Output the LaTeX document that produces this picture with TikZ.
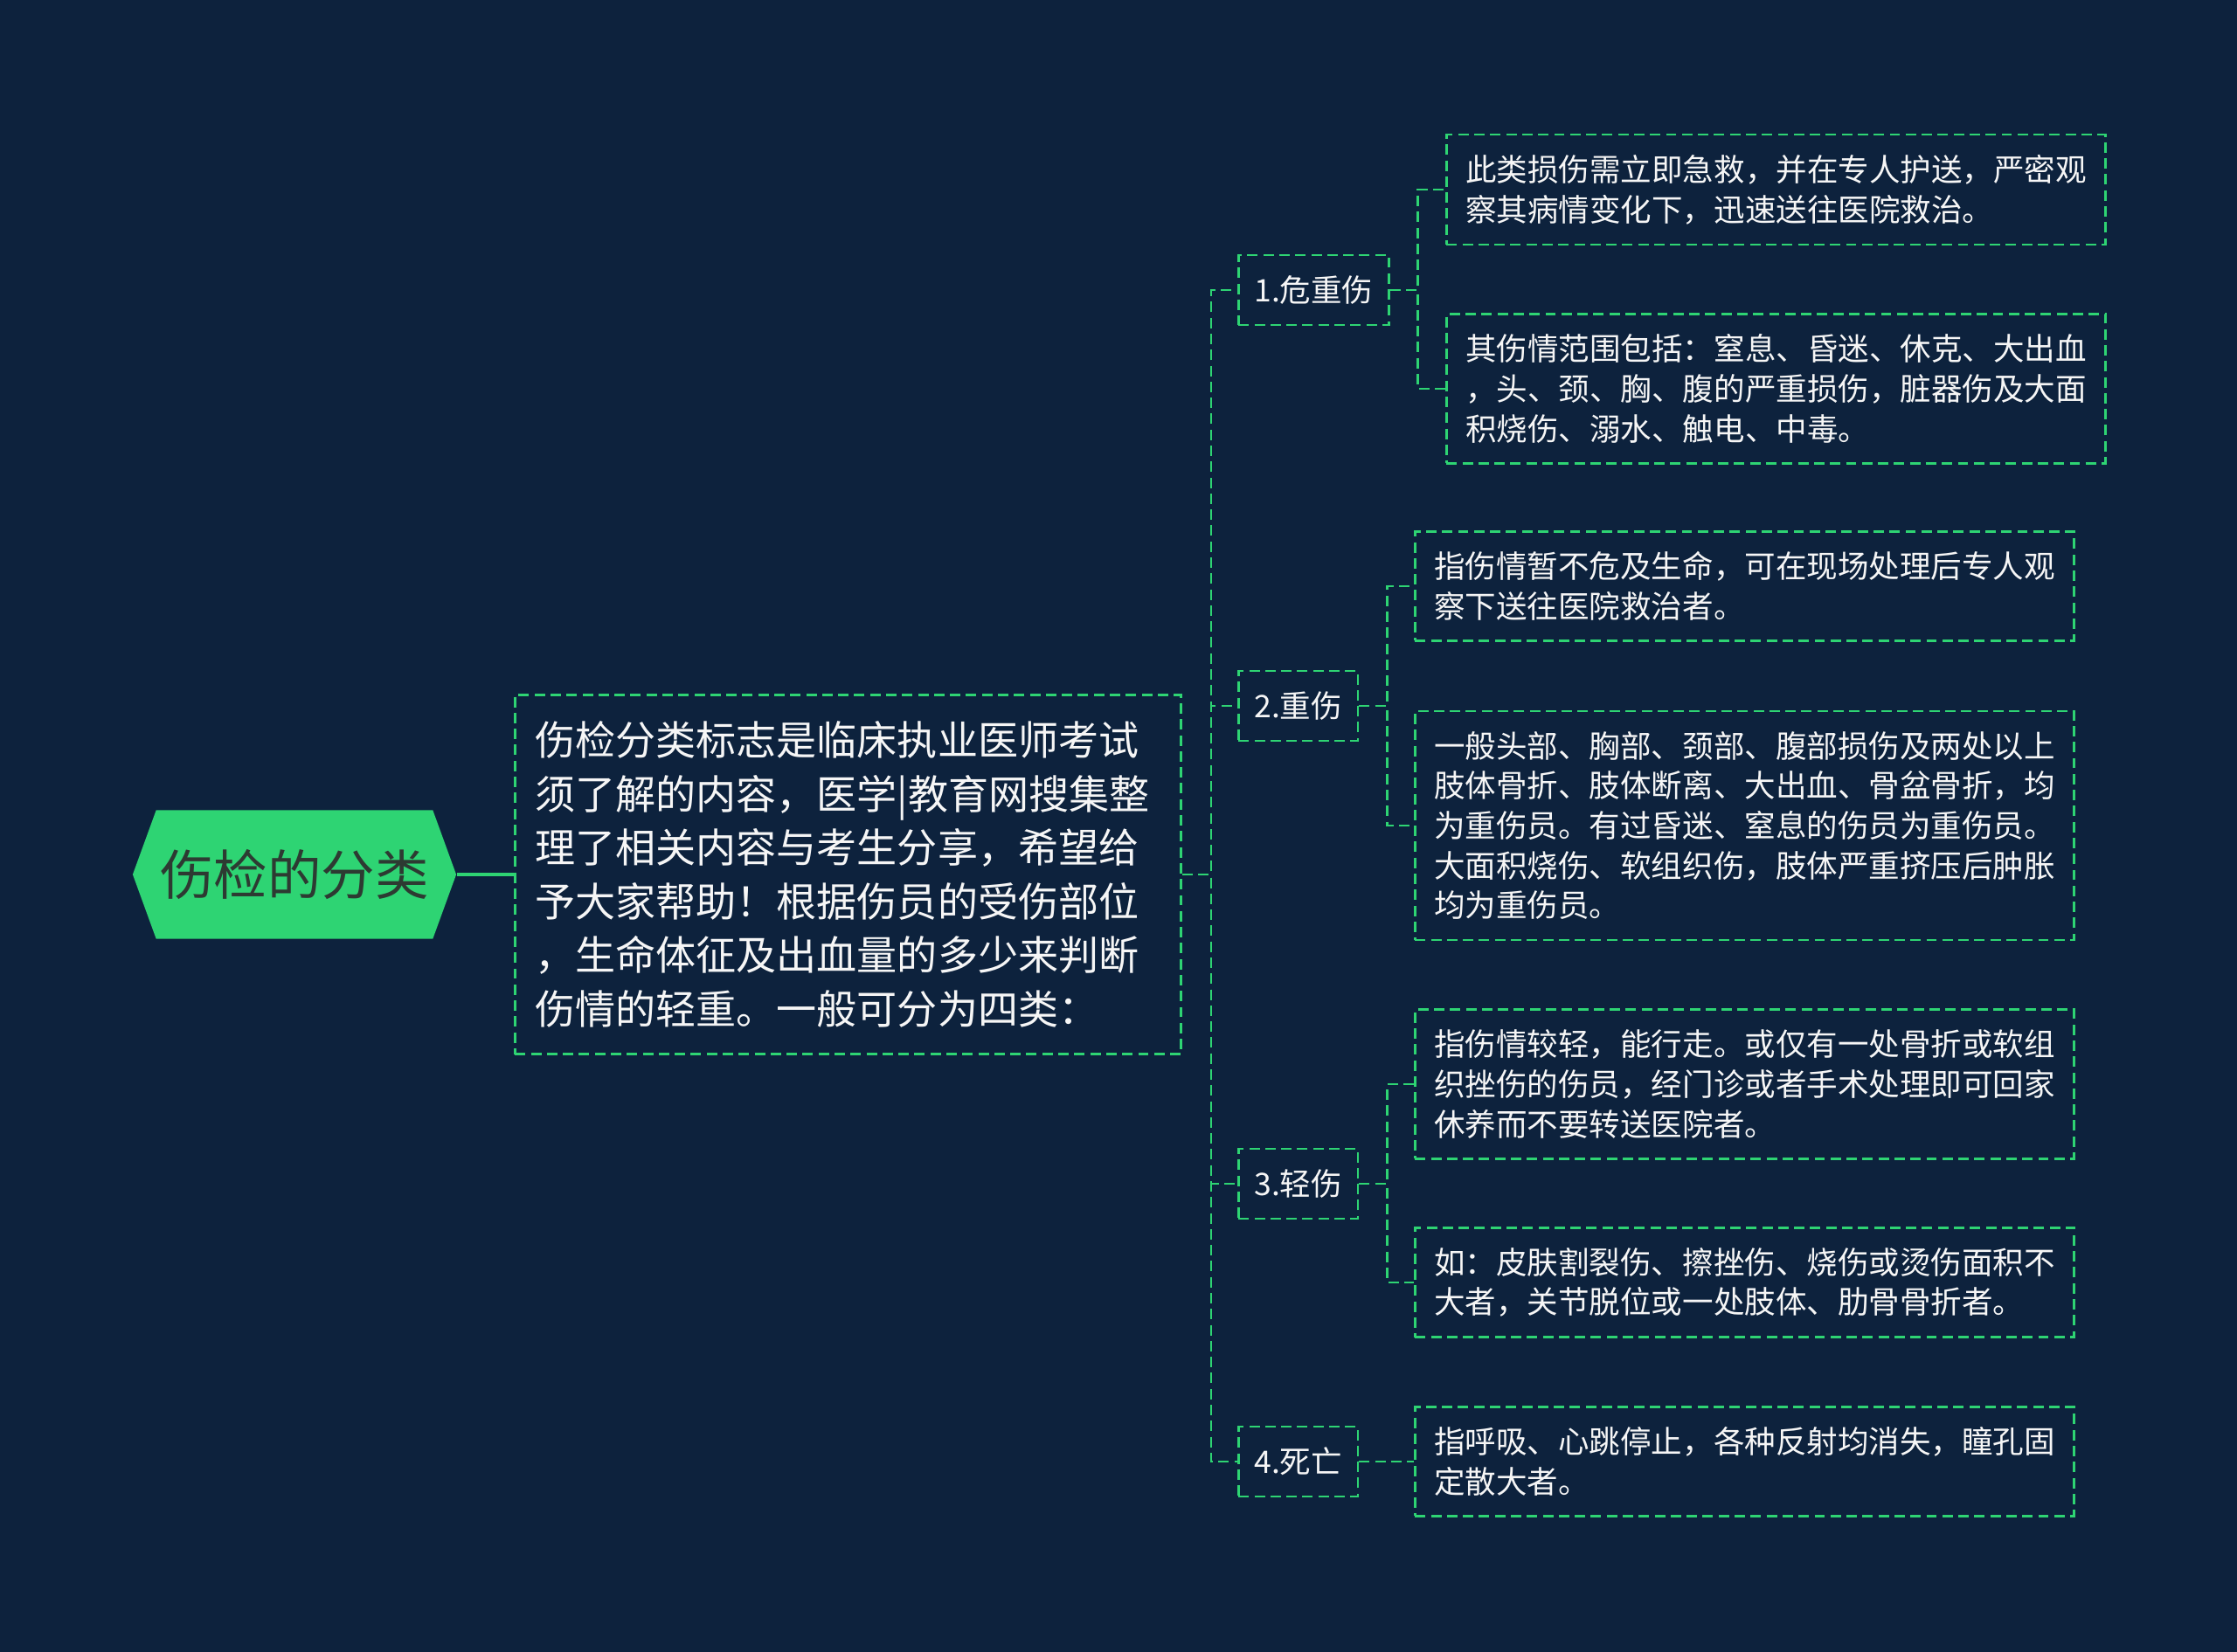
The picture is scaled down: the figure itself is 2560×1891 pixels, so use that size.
\documentclass[tikz,border=0pt]{standalone}
\usepackage{fontspec}
\setmainfont{Noto Sans CJK SC}
\usetikzlibrary{shapes.symbols}

\definecolor{bgnavy}{RGB}{13,34,61}
\definecolor{leafgreen}{RGB}{46,212,115}
\definecolor{rootink}{RGB}{45,58,50}
\definecolor{paper}{RGB}{246,246,246}

\tikzset{
  conn/.style={leafgreen, line width=0.75pt, dash pattern=on 3.4pt off 1.8pt},
  dashbox/.style={draw=leafgreen, line width=0.75pt, dash pattern=on 3.4pt off 1.8pt, text=paper, anchor=west},
  rootnode/.style={signal, signal to=west and east, signal pointer angle=140, fill=leafgreen, text=rootink,
    font=\fontsize{17.5}{21}\selectfont, minimum width=3.70cm, minimum height=1.47cm, inner sep=0pt},
  introbox/.style={dashbox, font=\fontsize{13.1}{17.5}\selectfont, align=left, text width=7.16cm,
    inner xsep=0.23cm, minimum height=4.11cm},
  kindbox/.style={dashbox, font=\fontsize{10.1}{13}\selectfont, inner xsep=0.18cm, minimum height=0.80cm},
  notebox/.style={dashbox, font=\fontsize{10.1}{13}\selectfont, align=left, text width=7.10cm,
    inner xsep=0.22cm, inner ysep=0.23cm}
}

\begin{document}
\begin{tikzpicture}[x=0.01cm,y=-0.01cm]
  \fill[bgnavy] (0,0) rectangle (2560,1891);

  % Root and intro
  \node[rootnode] (root) at (337,1001) {伤检的分类};
  \node[introbox] (intro) at (588,1001) {伤检分类标志是临床执业医师考试\\须了解的内容，医学|教育网搜集整\\理了相关内容与考生分享，希望给\\予大家帮助！根据伤员的受伤部位\\，生命体征及出血量的多少来判断\\伤情的轻重。一般可分为四类：};

  % Four kinds
  \node[kindbox] (crit) at (1416,332) {1.危重伤};
  \node[kindbox] (serious) at (1416,808) {2.重伤};
  \node[kindbox] (minor) at (1416,1355) {3.轻伤};
  \node[kindbox] (death) at (1416,1673) {4.死亡};

  % Notes
  \node[notebox] (crit-a) at (1654,217) {此类损伤需立即急救，并在专人护送，严密观\\察其病情变化下，迅速送往医院救治。};
  \node[notebox] (crit-b) at (1654,445) {其伤情范围包括：窒息、昏迷、休克、大出血\\，头、颈、胸、腹的严重损伤，脏器伤及大面\\积烧伤、溺水、触电、中毒。};
  \node[notebox] (serious-a) at (1618,671) {指伤情暂不危及生命，可在现场处理后专人观\\察下送往医院救治者。};
  \node[notebox] (serious-b) at (1618,945) {一般头部、胸部、颈部、腹部损伤及两处以上\\肢体骨折、肢体断离、大出血、骨盆骨折，均\\为重伤员。有过昏迷、窒息的伤员为重伤员。\\大面积烧伤、软组织伤，肢体严重挤压后肿胀\\均为重伤员。};
  \node[notebox] (minor-a) at (1618,1241) {指伤情较轻，能行走。或仅有一处骨折或软组\\织挫伤的伤员，经门诊或者手术处理即可回家\\休养而不要转送医院者。};
  \node[notebox] (minor-b) at (1618,1468) {如：皮肤割裂伤、擦挫伤、烧伤或烫伤面积不\\大者，关节脱位或一处肢体、肋骨骨折者。};
  \node[notebox] (death-a) at (1618,1673) {指呼吸、心跳停止，各种反射均消失，瞳孔固\\定散大者。};

  % Connectors
  \draw[leafgreen, line width=0.9pt] (root.east) -- (intro.west);
  \foreach \k in {crit,serious,minor,death}
    \draw[conn] (intro.east) -- ++(33,0) |- (\k.west);
  \foreach \k/\n in {crit/crit-a,crit/crit-b,serious/serious-a,serious/serious-b,minor/minor-a,minor/minor-b,death/death-a}
    \draw[conn] (\k.east) -- ++(32,0) |- (\n.west);
\end{tikzpicture}
\end{document}
